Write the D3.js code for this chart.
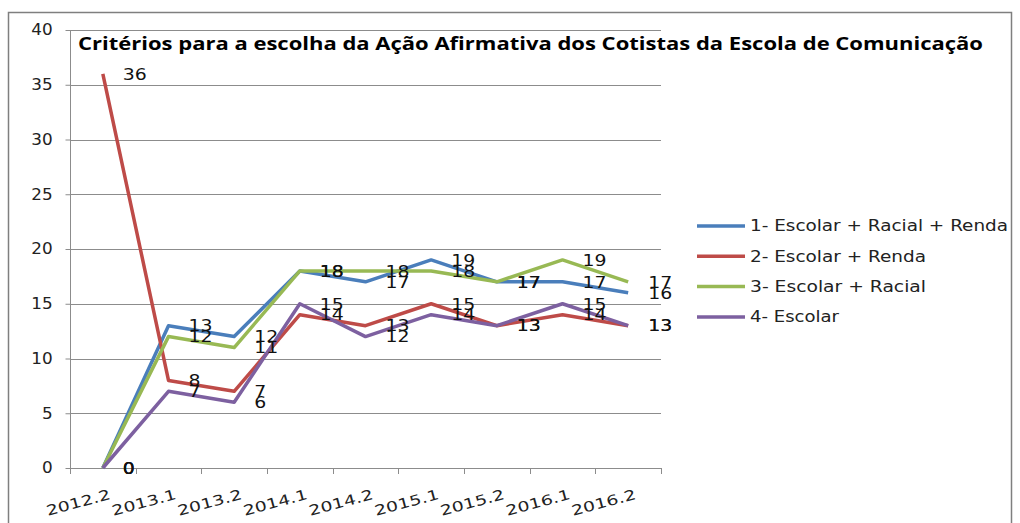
<!DOCTYPE html>
<html><head><meta charset="utf-8">
<script src="https://cdn.jsdelivr.net/npm/d3@7"></script>
<style>body{margin:0;background:#fff}svg{display:block}</style>
</head><body>
<svg id="c" width="1020" height="523"></svg>
<script>
const categories = ["2012.2","2013.1","2013.2","2014.1","2014.2","2015.1","2015.2","2016.1","2016.2"];
const seriesNames = ["1- Escolar + Racial + Renda","2- Escolar + Renda","3- Escolar + Racial","4- Escolar"];
const s1 = [0,13,12,18,17,19,17,17,16];
const s2 = [36,8,7,14,13,15,13,14,13];
const s3 = [0,12,11,18,18,18,17,19,17];
const s4 = [0,7,6,15,12,14,13,15,13];
const yTicks = [0,5,10,15,20,25,30,35,40];
const title = "Critérios para a escolha da Ação Afirmativa dos Cotistas da Escola de Comunicação";
const colors = ["#4A7EBB","#BE4B48","#98B954","#7D60A0"];
const series = [s1,s2,s3,s4];

const svg = d3.select("#c");
// outer border
svg.append("rect").attr("x",8.5).attr("y",12.5).attr("width",1003).attr("height",530)
  .attr("fill","none").attr("stroke","#7f7f7f").attr("stroke-width",1.5);

const x = d3.scaleBand().domain(categories).range([70,661]);
const y = d3.scaleLinear().domain([0,40]).range([468,30]);

// gridlines
svg.append("g").selectAll("line").data(yTicks.filter(d=>d>0)).join("line")
  .attr("x1",70).attr("x2",661).attr("y1",d=>Math.round(y(d))+0.5).attr("y2",d=>Math.round(y(d))+0.5)
  .attr("stroke","#8c8c8c").attr("stroke-width",1);

// y axis
const ya = svg.append("g").attr("transform","translate(70.5,0)")
  .call(d3.axisLeft(y).tickValues(yTicks).tickSize(5).tickPadding(8));
ya.select(".domain").attr("stroke","#8c8c8c").attr("d","M0,30V468");
ya.selectAll(".tick line").attr("stroke","#8c8c8c");
ya.selectAll(".tick text").attr("font-family","DejaVu Sans").attr("font-size",15).attr("fill","#222")
  .attr("transform","scale(1.12,1)").attr("dx",-3);
// x axis
const xa = svg.append("g").attr("transform","translate(0,468.5)")
  .call(d3.axisBottom(x).tickSize(0).tickFormat(""));
xa.select(".domain").attr("stroke","#8c8c8c").attr("d","M70,0H661");
svg.append("g").selectAll("line").data(d3.range(categories.length+1)).join("line")
  .attr("x1",i=>Math.round(70+i*x.step())+0.5).attr("x2",i=>Math.round(70+i*x.step())+0.5)
  .attr("y1",468).attr("y2",474).attr("stroke","#8c8c8c");
svg.append("g").selectAll("text").data(categories).join("text")
  .attr("transform",d=>`translate(${x(d)+x.bandwidth()/2+6},${489}) rotate(-15)`)
  .attr("text-anchor","end").attr("dy","0.72em")
  .attr("font-family","DejaVu Sans").attr("font-size",14).attr("fill","#222")
  .attr("textLength",66).attr("lengthAdjust","spacingAndGlyphs")
  .text(d=>d);

// lines
const line = d3.line().x((d,i)=>x(categories[i])+x.bandwidth()/2).y(d=>y(d));
series.forEach((s,k)=>{
  svg.append("path").datum(s).attr("d",line).attr("fill","none")
    .attr("stroke",colors[k]).attr("stroke-width",3.5).attr("stroke-linejoin","round");
});
// data labels
series.forEach((s,k)=>{
  svg.append("g").selectAll("text").data(s).join("text")
    .attr("x",(d,i)=>x(categories[i])+x.bandwidth()/2+20)
    .attr("y",d=>y(d)).attr("dy","0.36em")
    .attr("font-family","DejaVu Sans").attr("font-size",16).attr("fill","#111")
    .attr("textLength",d=>String(d).length*12).attr("lengthAdjust","spacingAndGlyphs")
    .text(d=>d);
});

// title
svg.append("text").attr("x",78).attr("y",50).attr("font-family","Open Sans").attr("font-weight","bold")
  .attr("font-size",17).attr("fill","#000").attr("textLength",905).attr("lengthAdjust","spacingAndGlyphs")
  .text(title);

// legend
const lg = svg.append("g");
seriesNames.forEach((n,k)=>{
  const ly = 226 + k*30.3;
  lg.append("line").attr("x1",697).attr("x2",745).attr("y1",ly).attr("y2",ly)
    .attr("stroke",colors[k]).attr("stroke-width",3.5);
  lg.append("text").attr("x",750).attr("y",ly).attr("dy","0.36em")
    .attr("font-family","DejaVu Sans").attr("font-size",15).attr("fill","#222")
    .attr("textLength",[258,176,176,89][k]).attr("lengthAdjust","spacingAndGlyphs")
    .text(n);
});
</script>
</body></html>
